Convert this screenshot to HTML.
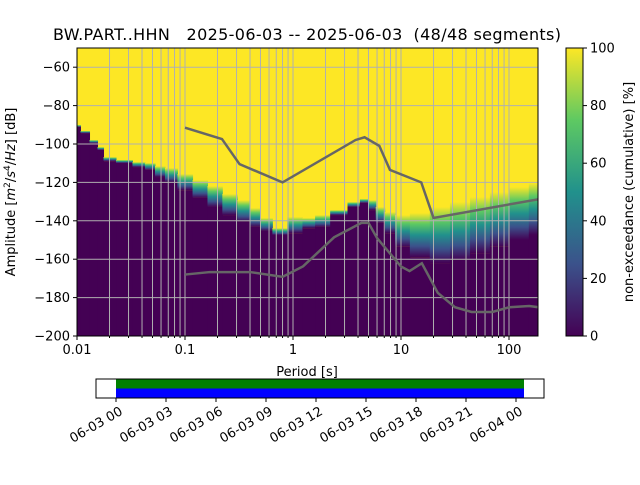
<!DOCTYPE html>
<html><head><meta charset="utf-8"><style>
body{margin:0;background:#fff;}
svg{font-family:"DejaVu Sans","Liberation Sans",sans-serif;}
.pre{white-space:pre;}
</style></head><body>
<svg id="c" width="640" height="480" viewBox="0 0 640 480" xmlns="http://www.w3.org/2000/svg">
<defs>
<linearGradient id="vir" x1="0" y1="1" x2="0" y2="0">
<stop offset="0" stop-color="#440154"/><stop offset="0.25" stop-color="#3b528b"/><stop offset="0.5" stop-color="#21918c"/><stop offset="0.75" stop-color="#5ec962"/><stop offset="1" stop-color="#fde725"/>
</linearGradient>
<clipPath id="pc"><rect x="77" y="48" width="461" height="288"/></clipPath>
</defs>
<text class="pre" x="307" y="40" font-size="16" text-anchor="middle" textLength="508" xml:space="preserve">BW.PART..HHN   2025-06-03 -- 2025-06-03  (48/48 segments)</text>
<g id="heat" clip-path="url(#pc)"></g>
<g id="grid" clip-path="url(#pc)"></g>
<g id="models" clip-path="url(#pc)"></g>
<rect x="77" y="48" width="461" height="288" fill="none" stroke="#000" stroke-width="1"/>
<g id="axes" font-size="13"></g>
<text x="307" y="376" font-size="13" text-anchor="middle">Period [s]</text>
<text transform="translate(15,192) rotate(-90)" font-size="13" text-anchor="middle">Amplitude [<tspan font-style="italic">m</tspan><tspan font-size="9" dy="-5">2</tspan><tspan dy="5">/</tspan><tspan font-style="italic">s</tspan><tspan font-size="9" dy="-5">4</tspan><tspan dy="5">/</tspan><tspan font-style="italic">Hz</tspan>] [dB]</text>
<rect x="566" y="48" width="17" height="288" fill="url(#vir)"/>
<rect x="566" y="48" width="17" height="288" fill="none" stroke="#000" stroke-width="1"/>
<g id="cbar" font-size="13"></g>
<text transform="translate(633,192) rotate(-90)" font-size="13" text-anchor="middle">non-exceedance (cumulative) [%]</text>
<g>
<rect x="116" y="379" width="408" height="9.5" fill="#008000"/>
<rect x="116" y="388.5" width="408" height="9.5" fill="#0000ff"/>
<rect x="96" y="379" width="448" height="19" fill="none" stroke="#000" stroke-width="1"/>
<g id="time" font-size="13"></g>
</g>
</svg>
<script>
const periods=[0.01,0.0116,0.0147,0.0163,0.019,0.0278,0.0383,0.0474,0.0587,0.0725,0.1,0.138,0.189,0.26,0.358,0.445,0.55,0.755,1.04,1.44,1.78,2.74,3.73,4.65,5.37,6.34,7.9,9.8,14.9,22.9,35.2,54,82,125,186];
const lowerDb=[-91.1,-94.3,-99.5,-103.1,-108.9,-109.9,-112,-113.5,-117.2,-119.8,-124,-128.1,-132.8,-137,-140.6,-143.2,-145.3,-147.4,-146.4,-143.8,-143.2,-137,-132.8,-130.7,-134.4,-141.1,-146.4,-153.6,-158.9,-162,-160.4,-156.8,-153.6,-150,-147.4];
const upperDb=[-90.1,-93.2,-97.9,-101.6,-106.8,-108.3,-109.4,-109.9,-111.5,-112.5,-115.6,-118.8,-121.9,-126,-129.2,-133.3,-138.5,-143.8,-138,-138.5,-137,-134.4,-130.2,-128.6,-129.2,-132.8,-135.4,-137,-135.9,-132.8,-130.2,-127.6,-125,-122.4,-120.3];
const nhnmT=[0.1,0.22,0.32,0.8,3.8,4.6,6.3,7.9,15.4,20,186];
const nhnmDb=[-91.5,-97.4,-110.5,-120,-97.9,-96.5,-101,-113.5,-120,-138.5,-128.8];
const nlnmT=[0.1,0.17,0.4,0.8,1.24,2.4,4.3,5,6,10,12,15.6,21.9,31.6,45,70,101,154,186];
const nlnmDb=[-168,-166.7,-166.7,-169.2,-163.7,-148.6,-141.1,-141.1,-149,-163.8,-166.2,-162.1,-177.5,-185,-187.5,-187.5,-185,-184.4,-185];
const yTicks=[-60,-80,-100,-120,-140,-160,-180,-200];
const xTicks=[0.01,0.1,1,10,100];
const xTickLabels=["0.01","0.1","1","10","100"];
const cTicks=[0,20,40,60,80,100];
const timeLabels=["06-03 00","06-03 03","06-03 06","06-03 09","06-03 12","06-03 15","06-03 18","06-03 21","06-04 00"];

const NS="http://www.w3.org/2000/svg";
const X0=77,X1=538,Y0=48,Y1=336;
const xs=t=>X0+(Math.log10(t)+2)*108;
const ys=d=>Y0+(-50-d)*1.92;
function mk(tag,attrs,parent){const e=document.createElementNS(NS,tag);for(const k in attrs)e.setAttribute(k,attrs[k]);parent.appendChild(e);return e;}
const heat=document.getElementById('heat');
mk('rect',{x:X0,y:Y0,width:X1-X0,height:Y1-Y0,fill:'#fde725'},heat);
for(let i=0;i<periods.length;i++){
  const xc=xs(periods[i]);
  const xl=i==0?X0:(xc+xs(periods[i-1]))/2;
  const xr=i==periods.length-1?X1:(xc+xs(periods[i+1]))/2;
  const yl=ys(lowerDb[i]),yu=ys(upperDb[i]);
  const p=mk('rect',{x:xl,y:yl,width:xr-xl+0.5,height:Y1-yl,fill:'#440154'},heat);
  
  
  if(yl-yu>0.5){
    const g=mk('rect',{x:xl,y:yu,width:xr-xl+0.5,height:yl-yu,fill:'url(#vir)'},heat);
    
    
  }
}
const grid=document.getElementById('grid');
for(let d=-2;d<=2;d++)for(let m=1;m<=9;m++){
  const t=m*Math.pow(10,d);const x=xs(t);
  if(x<X0||x>X1)continue;
  const l=mk('line',{x1:x,x2:x,y1:Y0,y2:Y1,stroke:'#b0b0b0','stroke-width':1},grid);
  
  
}
yTicks.forEach(v=>{const y=ys(v);
  const l=mk('line',{x1:X0,x2:X1,y1:y,y2:y,stroke:'#b0b0b0','stroke-width':1},grid);
  
  
});
const models=document.getElementById('models');
function poly(T,D,name){
  const pl=mk('polyline',{points:T.map((t,i)=>xs(t)+','+ys(D[i])).join(' '),fill:'none',stroke:'#666','stroke-width':2.5},models);
  
  
}
poly(nhnmT,nhnmDb,'nhnm-line');
poly(nlnmT,nlnmDb,'nlnm-line');
const axes=document.getElementById('axes');
yTicks.forEach(v=>{const y=ys(v);
  mk('line',{x1:X0-4,x2:X0,y1:y,y2:y,stroke:'#000'},axes);
  const t=mk('text',{x:X0-7,y:y+4.5,'text-anchor':'end'},axes);t.textContent=String(v).replace('-','\u2212');
  
  
});
xTicks.forEach((v,i)=>{const x=xs(v);
  mk('line',{x1:x,x2:x,y1:Y1,y2:Y1+4,stroke:'#000'},axes);
  const t=mk('text',{x:x,y:Y1+18,'text-anchor':'middle'},axes);t.textContent=xTickLabels[i];
  
  
});
for(let d=-2;d<=2;d++)for(let m=2;m<=9;m++){const x=xs(m*Math.pow(10,d));if(x>X1)continue;mk('line',{x1:x,x2:x,y1:Y1,y2:Y1+2,stroke:'#000'},axes);}
const cb=document.getElementById('cbar');
cTicks.forEach(v=>{const y=336-v*2.88;
  mk('line',{x1:583,x2:587,y1:y,y2:y,stroke:'#000'},cb);
  const t=mk('text',{x:590,y:y+4.5},cb);t.textContent=v;
  
  
});
const tm=document.getElementById('time');
timeLabels.forEach((s,i)=>{const x=116+i*50;
  mk('line',{x1:x,x2:x,y1:398,y2:402,stroke:'#000'},tm);
  const t=mk('text',{transform:`translate(${x+3},${406}) rotate(-30)`,'text-anchor':'end',y:9},tm);t.textContent=s;
  
  
});
</script>
</body></html>
